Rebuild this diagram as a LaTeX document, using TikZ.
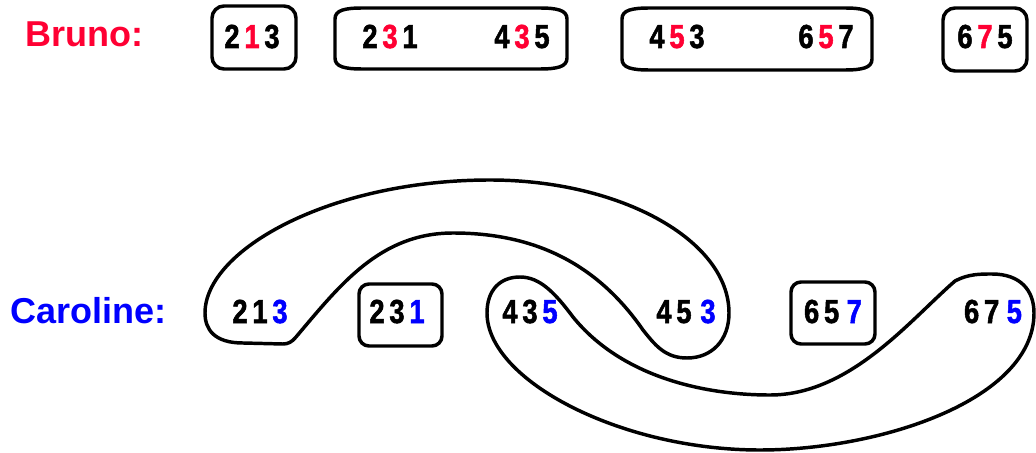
\documentclass[tikz,border=0pt]{standalone}
\usepackage{fontspec}
\newfontfamily\namefont{Liberation Sans}
\newfontfamily\digfont{Liberation Sans}[FakeStretch=0.82, FakeBold=1.5]
\definecolor{bred}{RGB}{255,0,51}
\definecolor{cblue}{RGB}{0,0,255}
% three digits on a fixed pitch, optional extra gap before the last one
\newcommand\dgt[4][0pt]{\makebox[15pt]{#2}\makebox[15pt]{#3}\hspace{#1}\makebox[15pt]{#4}}

\begin{document}
\begin{tikzpicture}[x=0.75pt, y=-0.75pt,
		nm/.style = {anchor=base west, inner sep=0, font=\namefont\bfseries\fontsize{27}{30}\selectfont},
		d/.style  = {anchor=base, inner sep=0, font=\digfont\bfseries\fontsize{25}{28}\selectfont},
		bx/.style = {line width=2.6pt, rounded corners=9pt},
		bl/.style = {line width=2.6pt, line join=round}
		]
		\useasboundingbox (0,0) rectangle (1036,453);
		
		% Bruno
		\node[nm, text=bred]	(bruno)	at	(25, 47)	{Bruno:};
		\node[d]	(b213)	at	(252, 48)	{\dgt{2}{\textcolor{bred}{1}}{3}};
		\node[d]	(b231)	at	(390, 48)	{\dgt{2}{\textcolor{bred}{3}}{1}};
		\node[d]	(b435)	at	(522, 48)	{\dgt{4}{\textcolor{bred}{3}}{5}};
		\node[d]	(b453)	at	(677, 48)	{\dgt{4}{\textcolor{bred}{5}}{3}};
		\node[d]	(b657)	at	(826, 48)	{\dgt{6}{\textcolor{bred}{5}}{7}};
		\node[d]	(b675)	at	(985, 48)	{\dgt{6}{\textcolor{bred}{7}}{5}};
		
		\draw[bx]	(212, 6)	rectangle	(296, 69);
		\draw[bl]	(335, 19) .. controls (335, 10) and (345, 8) .. (363, 8) -- (539, 8)
			.. controls (557, 8) and (567, 10) .. (567, 19) -- (567, 58)
			.. controls (567, 67) and (557, 69) .. (539, 69) -- (363, 69)
			.. controls (345, 69) and (335, 67) .. (335, 58) -- cycle;
		\draw[bl]	(622, 19) .. controls (622, 10) and (632, 8) .. (650, 8) -- (844, 8)
			.. controls (862, 8) and (872, 10) .. (872, 19) -- (872, 59)
			.. controls (872, 68) and (862, 70) .. (844, 70) -- (650, 70)
			.. controls (632, 70) and (622, 68) .. (622, 59) -- cycle;
		\draw[bx]	(943, 8)	rectangle	(1027, 71);
		
		% Caroline
		\node[nm, text=cblue]	(caroline)	at	(10, 323)	{Caroline:};
		\node[d]	(c213)	at	(260, 323)	{\dgt{2}{1}{\textcolor{cblue}{3}}};
		\node[d]	(c231)	at	(397, 323)	{\dgt{2}{3}{\textcolor{cblue}{1}}};
		\node[d]	(c435)	at	(530, 323)	{\dgt{4}{3}{\textcolor{cblue}{5}}};
		\node[d]	(c453)	at	(686, 323)	{\dgt[3pt]{4}{5}{\textcolor{cblue}{3}}};
		\node[d]	(c657)	at	(833, 323)	{\dgt[2pt]{6}{5}{\textcolor{cblue}{7}}};
		\node[d]	(c675)	at	(993, 323)	{\dgt[2pt]{6}{7}{\textcolor{cblue}{5}}};
		
		\draw[bx, rounded corners=7.5pt]	(359, 284)	rectangle	(442, 346);
		\draw[bx, rounded corners=7.5pt]	(791, 282)	rectangle	(875, 344);
		
		% group round 213 and 453
		\draw[bl]	(205, 313) .. controls (205, 250) and (330, 180) .. (490, 180)
			.. controls (620, 180) and (729, 240) .. (729, 313)
			.. controls (729, 340) and (712, 358) .. (687, 358)
			.. controls (665, 358) and (655, 345) .. (643, 330)
			.. controls (600, 268) and (540, 233) .. (453, 233)
			.. controls (380, 233) and (340, 285) .. (296, 337)
			.. controls (292, 342) and (288, 344) .. (283, 344) -- (243, 343)
			.. controls (215, 343) and (205, 330) .. cycle;
		% group round 435 and 675
		\draw[bl]	(520, 277) .. controls (540, 277) and (555, 293) .. (573, 317)
			.. controls (620, 375) and (700, 395) .. (770, 395)
			.. controls (850, 395) and (910, 320) .. (955, 281)
			.. controls (968, 274) and (980, 274) .. (992, 274)
			.. controls (1020, 274) and (1034, 290) .. (1034, 313)
			.. controls (1034, 400) and (880, 450) .. (760, 450)
			.. controls (620, 450) and (487, 380) .. (487, 313)
			.. controls (487, 290) and (500, 277) .. cycle;
\end{tikzpicture}
\end{document}
